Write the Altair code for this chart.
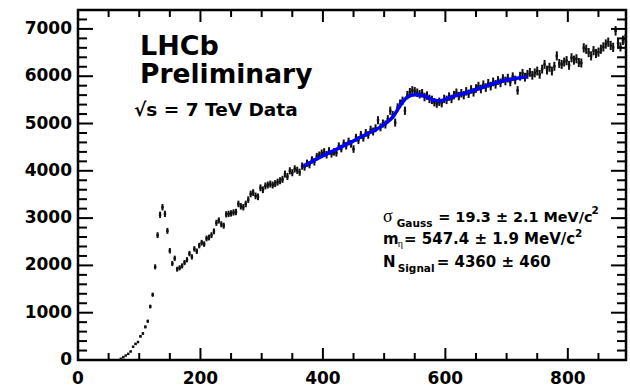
import altair as alt
import pandas as pd
import numpy as np

# ---- data ----
bin_start = 70      # MeV, centre of first bin
bin_width = 4       # MeV
counts = [
    25, 60, 95, 130, 180, 280, 340, 380, 500, 560,
    700, 820, 1130, 1380, 1970, 2640, 3070, 3230, 3090, 2730,
    2310, 2040, 2150, 1920, 1950, 1990, 2060, 2120, 2250, 2180,
    2350, 2300, 2420, 2480, 2450, 2570, 2590, 2640, 2720, 2900,
    2950, 2870, 2840, 3080, 3090, 3100, 3120, 3130, 3300, 3250,
    3230, 3300, 3390, 3510, 3540, 3470, 3450, 3640, 3600, 3680,
    3700, 3720, 3700, 3730, 3760, 3790, 3820, 3930, 3880, 4000,
    3960, 4040, 4010, 3970, 4100, 4080, 4160, 4130, 4230, 4190,
    4300, 4330, 4370, 4400, 4340, 4420, 4360, 4400, 4380, 4520,
    4470, 4580, 4530, 4620, 4570, 4460, 4700, 4650, 4760, 4700,
    4800, 4760, 4870, 4830, 4900, 5070, 4920, 5000, 4980, 5090,
    5270, 5180, 5020, 5340, 5420, 5480, 5270, 5600, 5660, 5700,
    5680, 5650, 5620, 5640, 5560, 5590, 5520, 5500, 5450, 5420,
    5460, 5430, 5520, 5500, 5570, 5520, 5600, 5650, 5580, 5640,
    5600, 5680, 5630, 5720, 5660, 5740, 5790, 5730, 5820, 5760,
    5850, 5790, 5880, 5830, 5910, 5860, 5950, 5900, 5960, 5880,
    5990, 5920, 5700, 6000, 6060, 5980, 6040, 6080, 6020, 6070,
    6110, 6040, 6150, 6250, 6130, 6190, 6110, 6210, 6430, 6270,
    6250, 6300, 6330, 6230, 6390, 6340, 6370, 6290, 6280, 6600,
    6570, 6500, 6430, 6540, 6480, 6510, 6570, 6620, 6680, 6720,
    6650, 6610, 6960, 6700, 6620, 6760, 6790,
]
fit_mass = [368, 390, 417, 445, 472, 499, 515, 526, 537, 551, 565, 581, 592, 608, 636, 663, 690, 734]
fit_vals = [4093, 4249, 4424, 4600, 4777, 4973, 5150, 5375, 5551, 5608, 5586, 5495, 5481, 5551, 5656, 5776, 5889, 5988]

x_labels = [0, 200, 400, 600, 800]
y_labels = [0, 1000, 2000, 3000, 4000, 5000, 6000, 7000]

X_MAX = 895
Y_MAX = 7400
W, H = 548, 350

mass = [bin_start + bin_width * i for i in range(len(counts))]
df = pd.DataFrame({"mass": mass, "n": counts})
err = 1.2 * np.sqrt(df["n"])
df["lo"] = df["n"] - err
df["hi"] = df["n"] + err
fit_df = pd.DataFrame({"mass": fit_mass, "f": fit_vals})

xs = alt.Scale(domain=[0, X_MAX], nice=False, zero=False)
ys = alt.Scale(domain=[0, Y_MAX], nice=False, zero=False)

FONT = "DejaVu Sans"

errs = alt.Chart(df).mark_rule(color="#111111", strokeWidth=2).encode(
    x=alt.X("mass:Q", scale=xs, axis=None),
    y=alt.Y("lo:Q", scale=ys, axis=None),
    y2="hi:Q",
)
pts = alt.Chart(df).mark_square(color="#111111", size=6, opacity=1).encode(
    x=alt.X("mass:Q", scale=xs, axis=None),
    y=alt.Y("n:Q", scale=ys, axis=None),
)
fit = alt.Chart(fit_df).mark_line(color="#0000ff", strokeWidth=3.5, interpolate="monotone").encode(
    x=alt.X("mass:Q", scale=xs, axis=None),
    y=alt.Y("f:Q", scale=ys, axis=None),
)

# tick labels placed through the chart's scales
xlab = alt.Chart(pd.DataFrame({"v": x_labels})).mark_text(
    align="center", baseline="alphabetic", font=FONT, fontWeight="bold", fontSize=17, color="black"
).encode(x=alt.X("v:Q", scale=xs, axis=None), y=alt.value(H + 24), text=alt.Text("v:Q", format="d"))
ylab = alt.Chart(pd.DataFrame({"v": y_labels})).mark_text(
    align="right", baseline="middle", font=FONT, fontWeight="bold", fontSize=17, color="black"
).encode(y=alt.Y("v:Q", scale=ys, axis=None), x=alt.value(-6), text=alt.Text("v:Q", format="d"))

# inward ROOT-style ticks on all four sides
xmaj = pd.DataFrame({"v": x_labels})
xmin = pd.DataFrame({"v": [v for v in range(50, X_MAX, 50) if v % 200 != 0]})
ymaj = pd.DataFrame({"v": y_labels})
ymin = pd.DataFrame({"v": [v for v in range(200, Y_MAX, 200) if v % 1000 != 0]})

def xticks(d, length):
    bottom = alt.Chart(d).mark_rule(color="black", strokeWidth=2).encode(
        x=alt.X("v:Q", scale=xs, axis=None), y=alt.value(H), y2=alt.value(H - length))
    top = alt.Chart(d).mark_rule(color="black", strokeWidth=2).encode(
        x=alt.X("v:Q", scale=xs, axis=None), y=alt.value(0), y2=alt.value(length))
    return [bottom, top]

def yticks(d, length):
    left = alt.Chart(d).mark_rule(color="black", strokeWidth=2).encode(
        y=alt.Y("v:Q", scale=ys, axis=None), x=alt.value(0), x2=alt.value(length))
    right = alt.Chart(d).mark_rule(color="black", strokeWidth=2).encode(
        y=alt.Y("v:Q", scale=ys, axis=None), x=alt.value(W), x2=alt.value(W - length))
    return [left, right]

ticks = xticks(xmaj, 12) + xticks(xmin, 7) + yticks(ymaj, 15) + yticks(ymin, 9)

one = pd.DataFrame({"a": [0]})

def label(text, x, y, size, font=FONT, weight="bold"):
    return alt.Chart(one).mark_text(text=text, align="left", baseline="alphabetic", font=font,
                                    fontSize=size, fontWeight=weight, color="black").encode(
        x=alt.value(x), y=alt.value(y))

texts = [
    label("LHCb", 62, 45, 27),
    label("Preliminary", 62, 73, 26.5),
    label("\u221as = 7 TeV Data", 56, 106, 18.5),
    label("\u03c3", 305, 211.7, 18, font="Liberation Serif", weight="normal"),
    label("Gauss", 318.7, 216.7, 10.5),
    label("= 19.3 \u00b1 2.1 MeV/c", 360.3, 211.7, 14.4),
    label("2", 513.5, 203.5, 10.5),
    label("m", 305, 234, 15),
    label("\u03b7", 319.7, 237, 10, font="Liberation Serif", weight="normal"),
    label("= 547.4 \u00b1 1.9 MeV/c", 326, 234, 15),
    label("2", 497, 226.5, 10.5),
    label("N", 305, 257.3, 15),
    label("Signal", 319.7, 262.3, 10.5),
    label("= 4360 \u00b1 460", 358.7, 257.3, 15),
]

chart = alt.layer(errs, pts, fit, *ticks, xlab, ylab, *texts).properties(
    width=W, height=H,
    autosize=alt.AutoSizeParams(type="none"),
    padding={"left": 78, "top": 10, "right": 4, "bottom": 28},
    background="white",
).configure_view(stroke="black", strokeWidth=2.5, clip=False)

chart.save("out.html", embed_options={"renderer": "svg", "actions": False})
